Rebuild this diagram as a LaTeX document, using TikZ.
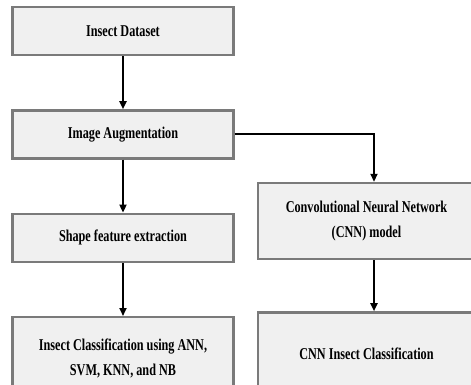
\documentclass[tikz,border=0pt]{standalone}
\usepackage{fontspec}
\setmainfont{Liberation Serif}[BoldFeatures={FakeStretch=0.74}]
\usepackage{xcolor}
\usetikzlibrary{arrows.meta, positioning}

\definecolor{boxfill}{HTML}{F0F0F0}
\definecolor{boxline}{HTML}{7A7A7A}

\begin{document}
\begin{tikzpicture}[
    x=1pt, y=1pt,
    node distance=53pt and 27pt,
    every node/.style={font=\fontsize{16.5}{25}\selectfont\bfseries},
    box/.style={rectangle, draw=boxline, line width=2.4pt, fill=boxfill, minimum width=221pt, minimum height=48pt, align=center, inner sep=0pt},
    arrow/.style={-{Triangle[length=8pt, width=7pt]}, line width=1.8pt}
  ]
    \useasboundingbox (0,0) rectangle (471,-385);
    % left column
    \node[box] (data) at (123,-31) {Insect Dataset};
    \node[box, below=of data] (aug) {Image Augmentation};
    \node[box, below=of aug] (shape) {Shape feature extraction};
    \node[box, minimum height=82pt, below=of shape] (mlclass) {Insect Classification using ANN,\\SVM, KNN, and NB};
    % right column
    \node[box, minimum width=217pt, minimum height=76pt] (cnn) at (366.5,-221) {Convolutional Neural Network\\(CNN) model};
    \node[box, minimum width=217pt, minimum height=82pt, below=51pt of cnn] (cnnclass) {CNN Insect Classification};

    \draw[arrow] (data) -- (aug);
    \draw[arrow] (aug) -- (shape);
    \draw[arrow] (shape) -- (mlclass);
    \draw[arrow] (aug.east) -| ([xshift=7.5pt]cnn.north);
    \draw[arrow] ([xshift=7.5pt]cnn.south) -- ([xshift=7.5pt]cnnclass.north);
  \end{tikzpicture}
\end{document}
